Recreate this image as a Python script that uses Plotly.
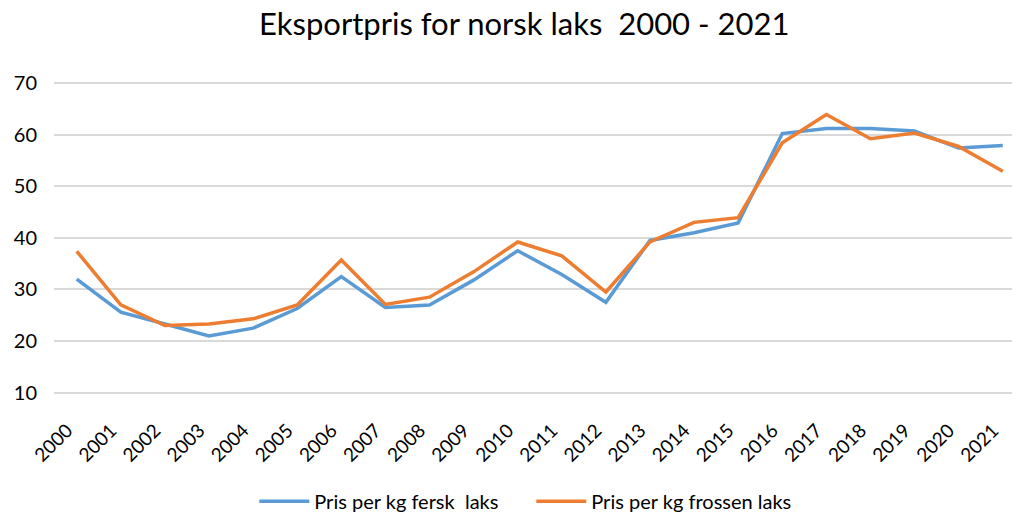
import plotly.graph_objects as go

# Eksportpris (NOK per kg) for norsk laks, 2000-2021
years = list(range(2000, 2022))
year_labels = [str(y) for y in years]

fersk = [32.0, 25.6, 23.3, 21.0, 22.5, 26.3, 32.5, 26.5, 27.0, 31.8, 37.5,
         32.9, 27.5, 39.5, 41.0, 42.9, 60.2, 61.2, 61.2, 60.7, 57.4, 57.9]
frossen = [37.4, 27.0, 23.0, 23.3, 24.3, 27.0, 35.7, 27.1, 28.5, 33.4, 39.2,
           36.5, 29.5, 39.2, 43.0, 43.9, 58.4, 63.9, 59.2, 60.3, 57.7, 52.9]

y_ticks = [10, 20, 30, 40, 50, 60, 70]

FONT = "Lato"
BLUE = "#5B9BD5"
ORANGE = "#ED7D31"
GRID = "#d9d9d9"

# rotated year labels sit slightly left of their tick
label_shift = 0.22
label_pos = [y - label_shift for y in years]

fig = go.Figure()
fig.add_trace(go.Scatter(x=years, y=fersk, mode="lines", name="Pris per kg fersk  laks",
                         line=dict(color=BLUE, width=3.5)))
fig.add_trace(go.Scatter(x=years, y=frossen, mode="lines", name="Pris per kg frossen laks",
                         line=dict(color=ORANGE, width=3.5)))

fig.update_layout(
    width=1012, height=513,
    margin=dict(l=0, r=0, t=0, b=0, autoexpand=False),
    paper_bgcolor="white", plot_bgcolor="white",
    font=dict(family=FONT, color="#000000"),
    title=dict(text="Eksportpris for norsk laks  2000 - 2021", x=0.518, xanchor="center",
               y=0.952, yanchor="middle", font=dict(family=FONT, size=31, color="#000000")),
    showlegend=True,
    legend=dict(orientation="h", x=0.525, xanchor="center", y=0.023, yanchor="middle",
                font=dict(family=FONT, size=20, color="#000000"),
                itemwidth=50, entrywidth=212, bgcolor="rgba(0,0,0,0)"),
    xaxis=dict(domain=[54 / 1012, 1.0], range=[1999.485, 2021.21],
               tickmode="array", tickvals=label_pos, ticktext=year_labels,
               tickangle=-45, tickfont=dict(family=FONT, size=19, color="#000000"),
               showgrid=False, zeroline=False, showline=False, ticks="",
               ticklabelstandoff=21, automargin=False),
    yaxis=dict(domain=[0.2326, 0.8402], range=[9.8, 70.2],
               tickmode="array", tickvals=y_ticks,
               tickfont=dict(family=FONT, size=20, color="#000000"),
               showgrid=True, gridcolor=GRID, gridwidth=1.5,
               zeroline=False, showline=False, ticks="",
               ticklabelstandoff=16, automargin=False),
)

fig.write_html("out.html")
